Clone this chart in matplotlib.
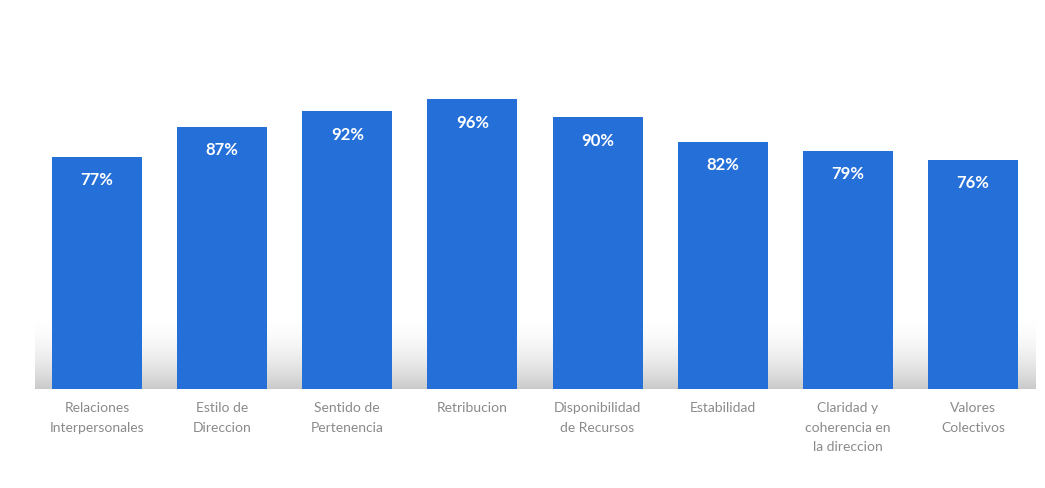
import numpy as np
import matplotlib.pyplot as plt

plt.rcParams['font.family'] = ['Lato', 'DejaVu Sans']

categorias = ["Relaciones\nInterpersonales", "Estilo de\nDireccion", "Sentido de\nPertenencia",
              "Retribucion", "Disponibilidad\nde Recursos", "Estabilidad",
              "Claridad y\ncoherencia en\nla direccion", "Valores\nColectivos"]
porcentajes = [77, 87, 92, 96, 90, 82, 79, 76]

fig = plt.figure(figsize=(10.45, 4.89), dpi=100)
ax = fig.add_axes([34.5 / 1045, 99 / 489, 1001 / 1045, 350 / 489])

x = np.arange(len(categorias))

# sombra gris suave al pie de las barras (se desvanece hacia arriba)
alfa = np.linspace(0, 1, 120) ** 2 * 0.38
sombra = np.zeros((120, 1, 4))
sombra[..., :3] = 0.45
sombra[:, 0, 3] = alfa
ax.imshow(sombra, extent=(-0.5, 7.5, 0, 25), aspect='auto', zorder=0,
          origin='upper', interpolation='bilinear')

barras = ax.bar(x, porcentajes, width=0.72, color='#2570D8', zorder=2)

for xi, v in zip(x, porcentajes):
    ax.annotate(f"{v}%", (xi, v), xytext=(0, -16), textcoords='offset points',
                ha='center', va='center', color='white', fontsize=12,
                fontweight='bold', zorder=3)

ax.set_xlim(-0.5, 7.5)
ax.set_ylim(0, 116)
ax.set_xticks(x)
ax.set_xticklabels(categorias, color='#8a8a8a', fontsize=10, linespacing=1.75)
ax.tick_params(axis='x', length=0, pad=9)
ax.set_yticks([])
for s in ax.spines.values():
    s.set_visible(False)

fig.savefig("out.png", dpi=100)
